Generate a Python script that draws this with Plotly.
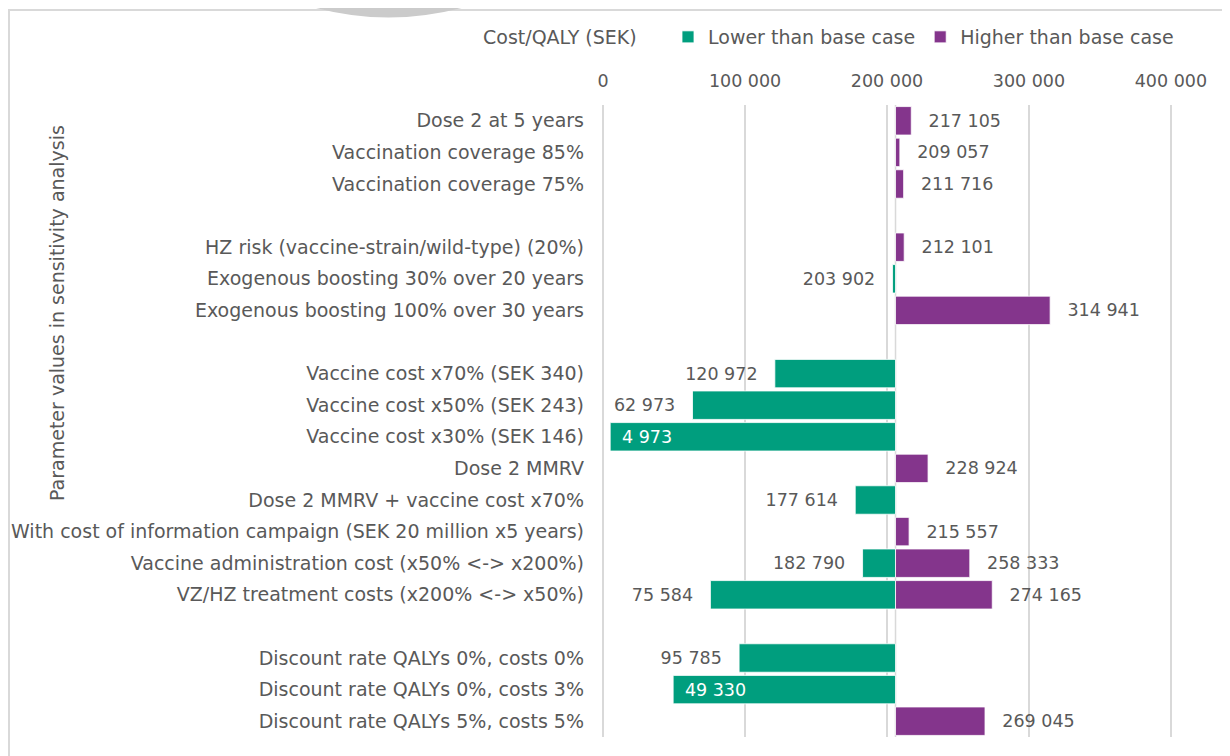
import plotly.graph_objects as go

# ---- data ----
categories = [
    "Dose 2 at 5 years",
    "Vaccination coverage 85%",
    "Vaccination coverage 75%",
    " ",
    "HZ risk (vaccine-strain/wild-type) (20%)",
    "Exogenous boosting 30% over 20 years",
    "Exogenous boosting 100% over 30 years",
    "  ",
    "Vaccine cost x70% (SEK 340)",
    "Vaccine cost x50% (SEK 243)",
    "Vaccine cost x30% (SEK 146)",
    "Dose 2 MMRV",
    "Dose 2 MMRV + vaccine cost x70%",
    "With cost of information campaign (SEK 20 million x5 years)",
    "Vaccine administration cost (x50% <-> x200%)",
    "VZ/HZ treatment costs (x200% <-> x50%)",
    "   ",
    "Discount rate QALYs 0%, costs 0%",
    "Discount rate QALYs 0%, costs 3%",
    "Discount rate QALYs 5%, costs 5%",
]
lower_values = [None, None, None, None, None, 203902, None, None,
                120972, 62973, 4973, None, 177614, None, 182790, 75584,
                None, 95785, 49330, None]
higher_values = [217105, 209057, 211716, None, 212101, None, 314941, None,
                 None, None, None, 228924, None, 215557, 258333, 274165,
                 None, None, None, 269045]
base_case = 206000  # estimated base-case cost/QALY (SEK)
x_ticks = [0, 100000, 200000, 300000, 400000]
inside_labels = [4973, 49330]

GREEN = "#009E7E"
PURPLE = "#84358C"
GREY_TXT = "#595959"
GRID = "#D9D9D9"
FONT = "DejaVu Sans"
FS = 19      # category / legend text
FSN = 17.5   # numbers

# screen geometry of plot area (page has 8px body margin)
PL, PR, PT, PB = 602, 1172, 105, 737
def px(sx):
    return (sx - PL) / (PR - PL)
def py(sy):
    return 1 - (sy - PT) / (PB - PT)

NB = "\u00a0"
EN = "\u2002"

def fmt(v):
    return f"{v:,}".replace(",", " ")

def series(vals, side):
    y, x, txt, pos = [], [], [], []
    for c, v in zip(categories, vals):
        if v is None:
            continue
        y.append(c)
        x.append(v - base_case)
        if v in inside_labels:
            txt.append(EN + fmt(v))
            pos.append("inside")
        elif side == "left":
            txt.append(fmt(v) + EN + NB)
            pos.append("outside")
        else:
            txt.append(EN + NB + fmt(v))
            pos.append("outside")
    return y, x, txt, pos

ly, lx, lt, lp = series(lower_values, "left")
hy, hx, ht, hp = series(higher_values, "right")

fig = go.Figure()
fig.add_trace(go.Bar(
    y=ly, x=lx, base=base_case, orientation="h", name="Lower than base case",
    marker=dict(color=GREEN, line=dict(color="white", width=0.8)),
    text=lt, textposition=lp, insidetextanchor="end",
    outsidetextfont=dict(color=GREY_TXT, size=FSN, family=FONT),
    insidetextfont=dict(color="white", size=FSN, family=FONT),
    cliponaxis=False, hoverinfo="skip",
))
fig.add_trace(go.Bar(
    y=hy, x=hx, base=base_case, orientation="h", name="Higher than base case",
    marker=dict(color=PURPLE, line=dict(color="white", width=0.8)),
    text=ht, textposition=hp,
    outsidetextfont=dict(color=GREY_TXT, size=FSN, family=FONT),
    cliponaxis=False, hoverinfo="skip",
))

# vertical axis line at the base case
fig.add_shape(type="line", xref="x", yref="paper", x0=base_case, x1=base_case,
              y0=0, y1=1, line=dict(color=GRID, width=1.5), layer="below")

# chart border
fig.add_shape(type="rect", xref="paper", yref="paper",
              x0=px(9), x1=px(1224), y0=py(800), y1=py(10),
              line=dict(color=GRID, width=2), layer="below")

# faint background graphic at the top (part of the source page)
fig.add_shape(type="path", xref="paper", yref="paper", layer="below",
              path=f"M {px(300)},{py(-3)} Q {px(388)},{py(26)} {px(478)},{py(-3)}",
              line=dict(color="#CBCBCB", width=12))

fig.add_annotation(text="Cost/QALY (SEK)", xref="paper", yref="paper",
                   x=px(560), y=py(37), xanchor="center", yanchor="middle",
                   showarrow=False,
                   font=dict(color=GREY_TXT, size=FS, family=FONT))
fig.add_annotation(text="Parameter values in sensitivity analysis",
                   xref="paper", yref="paper", textangle=-90,
                   x=px(57), y=py(313), xanchor="center", yanchor="middle",
                   showarrow=False,
                   font=dict(color=GREY_TXT, size=FS, family=FONT))

fig.update_layout(
    width=1230, height=756,
    margin=dict(l=PL - 8, r=1230 + 8 - PR, t=PT - 8, b=756 + 8 - PB,
                autoexpand=False),
    paper_bgcolor="white", plot_bgcolor="white",
    barmode="overlay", bargap=0.1,
    separators=". ",
    font=dict(family=FONT, size=FS, color=GREY_TXT),
    showlegend=True,
    legend=dict(orientation="h", x=px(668), y=py(37),
                xanchor="left", yanchor="middle",
                font=dict(color=GREY_TXT, size=FS, family=FONT),
                bgcolor="rgba(0,0,0,0)"),
    xaxis=dict(side="top", range=[-800, 400800], tickvals=x_ticks, tickformat=",d",
               showgrid=True, gridcolor=GRID, gridwidth=1.5, zeroline=False,
               showline=False, ticks="", ticklabelstandoff=14, automargin=False,
               tickfont=dict(color=GREY_TXT, size=FSN, family=FONT)),
    yaxis=dict(categoryorder="array", categoryarray=categories,
               autorange="reversed", showgrid=False, zeroline=False,
               showline=False, ticks="", ticklabelstandoff=17, automargin=False,
               tickfont=dict(color=GREY_TXT, size=FS, family=FONT)),
)

fig.write_html("out.html")
